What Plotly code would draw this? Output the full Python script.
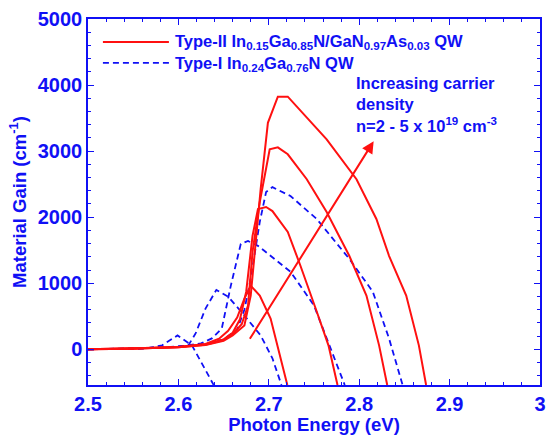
import plotly.graph_objects as go

# ---- data ----
red1_x = [2.50, 2.55, 2.60, 2.63, 2.645, 2.655, 2.665, 2.673, 2.680, 2.690, 2.702, 2.711, 2.7205]
red1_y = [0, 10, 35, 80, 160, 280, 480, 768, 964, 813, 467, -30, -540]
red2_x = [2.50, 2.55, 2.60, 2.63, 2.65, 2.66, 2.668, 2.675, 2.682, 2.688, 2.697, 2.704, 2.721, 2.735, 2.753, 2.766, 2.776]
red2_y = [0, 10, 35, 75, 150, 250, 450, 873, 1717, 2123, 2154, 2093, 1777, 1265, 572, 60, -540]
red3_x = [2.50, 2.55, 2.60, 2.63, 2.65, 2.66, 2.670, 2.677, 2.682, 2.690, 2.701, 2.710, 2.721, 2.742, 2.764, 2.789, 2.808, 2.822, 2.831]
red3_y = [0, 10, 30, 70, 140, 230, 380, 663, 1476, 2229, 3027, 3057, 2952, 2575, 2078, 1416, 813, 60, -540]
red4_x = [2.50, 2.55, 2.60, 2.63, 2.65, 2.66, 2.668, 2.673, 2.680, 2.686, 2.691, 2.699, 2.710, 2.721, 2.731, 2.764, 2.797, 2.819, 2.833, 2.852, 2.866, 2.874]
red4_y = [0, 10, 30, 65, 130, 210, 300, 361, 813, 1717, 2425, 3428, 3825, 3825, 3675, 3178, 2575, 1973, 1416, 813, 60, -540]

blue1_x = [2.50, 2.55, 2.564, 2.582, 2.599, 2.615, 2.633, 2.639]
blue1_y = [0, 5, 10, 60, 210, 60, -392, -540]
blue2_x = [2.50, 2.55, 2.58, 2.60, 2.611, 2.619, 2.630, 2.642, 2.655, 2.673, 2.691, 2.704, 2.714]
blue2_y = [0, 10, 25, 45, 60, 240, 617, 900, 798, 512, 210, -136, -540]
blue3_x = [2.50, 2.55, 2.60, 2.625, 2.637, 2.648, 2.658, 2.669, 2.677, 2.688, 2.695, 2.724, 2.750, 2.767, 2.784]
blue3_y = [0, 10, 40, 90, 165, 316, 964, 1596, 1640, 1566, 1491, 1175, 663, 60, -540]
blue4_x = [2.50, 2.55, 2.60, 2.63, 2.65, 2.665, 2.673, 2.680, 2.690, 2.697, 2.704, 2.724, 2.753, 2.789, 2.815, 2.833, 2.848]
blue4_y = [0, 10, 40, 80, 150, 300, 600, 1070, 1928, 2380, 2455, 2320, 1973, 1370, 873, 165, -540]

red_curves = [(red1_x, red1_y), (red2_x, red2_y), (red3_x, red3_y), (red4_x, red4_y)]
blue_curves = [(blue1_x, blue1_y), (blue2_x, blue2_y), (blue3_x, blue3_y), (blue4_x, blue4_y)]

arrow_tail = (2.678, 136)
arrow_head = (2.816, 3150)

x_ticks = [2.5, 2.6, 2.7, 2.8, 2.9, 3.0]
x_ticklabels = ["2.5", "2.6", "2.7", "2.8", "2.9", "3"]
y_ticks = [0, 1000, 2000, 3000, 4000, 5000]

legend_red = "Type-II In<sub>0.15</sub>Ga<sub>0.85</sub>N/GaN<sub>0.97</sub>As<sub>0.03</sub> QW"
legend_blue = "Type-I In<sub>0.24</sub>Ga<sub>0.76</sub>N QW"
note_text = "Increasing carrier<br>density<br>n=2 - 5 x 10<sup>19</sup> cm<sup>-3</sup>"

BLUE = "#1010f5"
RED = "#ff1010"
FONT = "Liberation Sans, Arial, sans-serif"

fig = go.Figure()
for bx, by in blue_curves:
    fig.add_trace(go.Scatter(x=bx, y=by, mode="lines", showlegend=False,
                             line=dict(color=BLUE, width=1.8, dash="6px,4px")))
for rx, ry in red_curves:
    fig.add_trace(go.Scatter(x=rx, y=ry, mode="lines", showlegend=False,
                             line=dict(color=RED, width=2)))

# arrow
fig.add_annotation(x=arrow_head[0], y=arrow_head[1], ax=arrow_tail[0], ay=arrow_tail[1],
                   xref="x", yref="y", axref="x", ayref="y", showarrow=True,
                   arrowhead=2, arrowsize=1.2, arrowwidth=2, arrowcolor=RED, text="")

# note text
fig.add_annotation(x=0.588, y=0.855, xref="paper", yref="paper", xanchor="left", yanchor="top",
                   align="left", showarrow=False, text=note_text,
                   font=dict(family=FONT, size=16.5, color=BLUE, weight="bold"))

# manual legend
fig.add_shape(type="line", xref="paper", yref="paper", x0=0.033, x1=0.179, y0=0.9375, y1=0.9375,
              line=dict(color=RED, width=2))
fig.add_shape(type="line", xref="paper", yref="paper", x0=0.033, x1=0.179, y0=0.880, y1=0.880,
              line=dict(color=BLUE, width=1.8, dash="6px,4px"))
fig.add_annotation(x=0.188, y=0.9375, xref="paper", yref="paper", xanchor="left", yanchor="middle",
                   showarrow=False, text=legend_red,
                   font=dict(family=FONT, size=16.5, color=BLUE, weight="bold"))
fig.add_annotation(x=0.188, y=0.878, xref="paper", yref="paper", xanchor="left", yanchor="middle",
                   showarrow=False, text=legend_blue,
                   font=dict(family=FONT, size=16.5, color=BLUE, weight="bold"))

axis_common = dict(showline=True, linecolor=BLUE, linewidth=1.5, mirror="ticks",
                   ticks="inside", ticklen=6, tickwidth=1.2, tickcolor=BLUE,
                   showgrid=False, zeroline=False,
                   tickfont=dict(family=FONT, size=20, color=BLUE, weight="bold"))

fig.update_xaxes(range=[2.5, 3.0], tickvals=x_ticks, ticktext=x_ticklabels,
                 minor=dict(dtick=0.02, tick0=2.5, ticks="inside", ticklen=3, tickcolor=BLUE, showgrid=False),
                 title=dict(text="Photon Energy (eV)", standoff=2,
                            font=dict(family=FONT, size=18.5, color=BLUE, weight="bold")),
                 **axis_common)
fig.update_yaxes(range=[-540, 5000], tickvals=y_ticks,
                 minor=dict(dtick=200, tick0=0, ticks="inside", ticklen=3, tickcolor=BLUE, showgrid=False),
                 title=dict(text="Material Gain (cm<sup>-1</sup>)", standoff=6,
                            font=dict(family=FONT, size=18.5, color=BLUE, weight="bold")),
                 **axis_common)

fig.update_layout(width=551, height=435, margin=dict(l=88, r=5, t=19, b=48),
                  plot_bgcolor="white", paper_bgcolor="white", showlegend=False)

fig.write_html("out.html")
